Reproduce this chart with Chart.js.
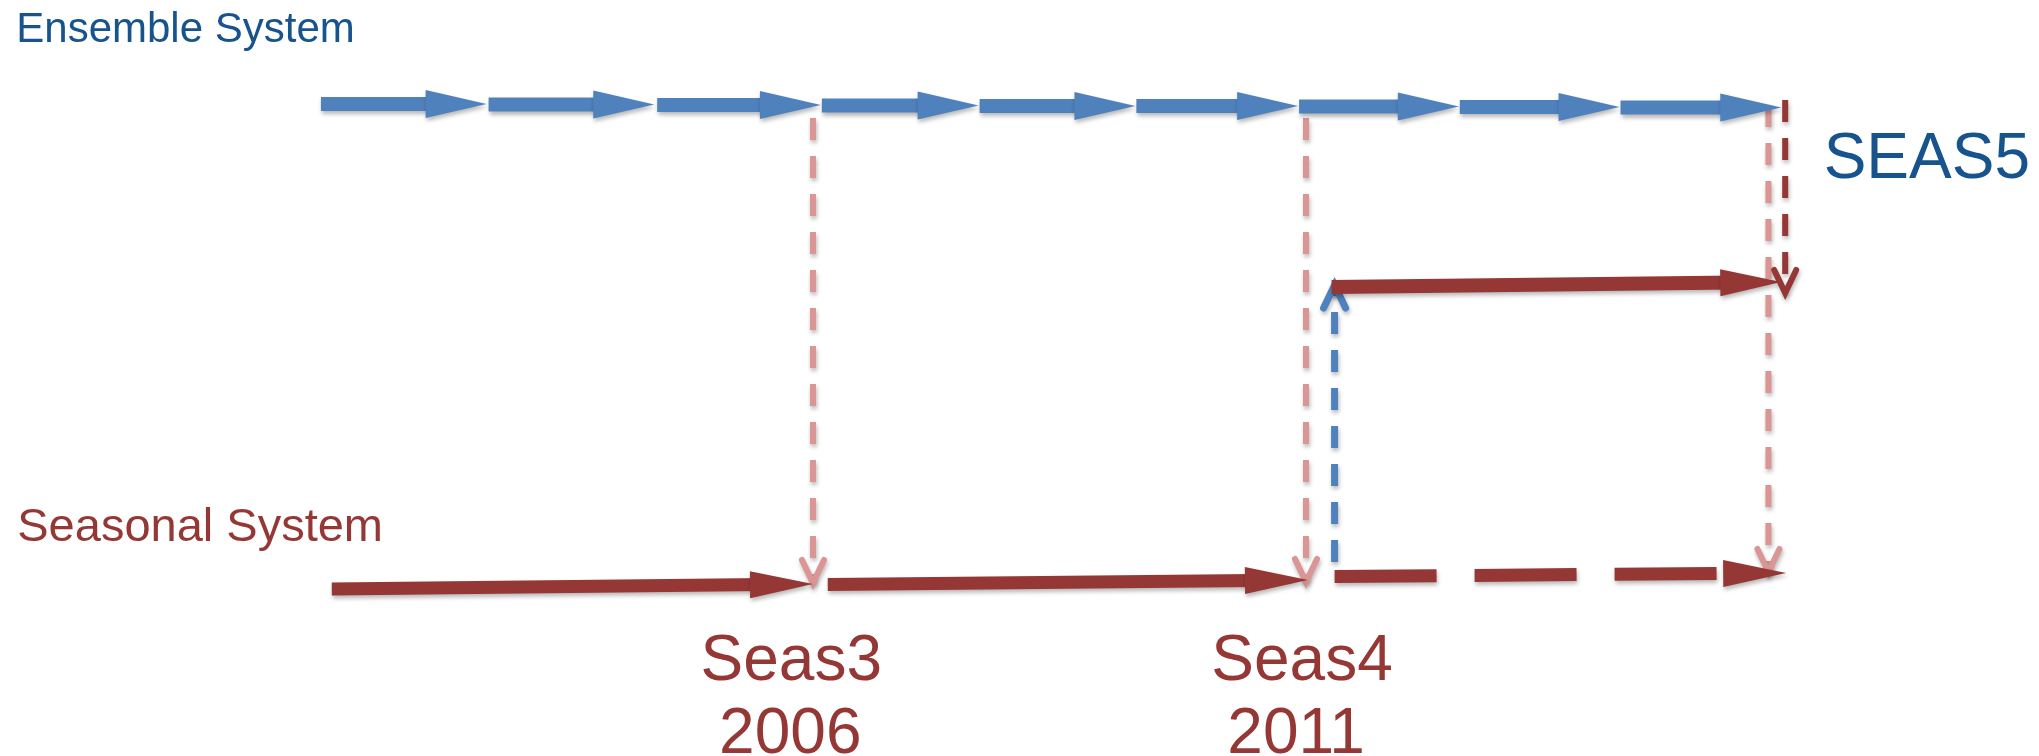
<!DOCTYPE html>
<html>
<head>
<meta charset="utf-8">
<script src="https://cdn.jsdelivr.net/npm/chart.js@4.4.1/dist/chart.umd.min.js"></script>
<style>
html, body { margin: 0; padding: 0; background: #fff; }
canvas { display: block; }
</style>
</head>
<body>
<canvas id="timeline" width="2039" height="756"></canvas>
<script>
// x = time in years, y = row position in the picture (0 at the top)
const X_MIN = 1997.755, X_MAX = 2018.434;
const Y_MIN = 0, Y_MAX = 756;

// Ensemble system cycles (blue arrows)
const ensembleStart = [2001.01, 2002.71, 2004.42, 2006.09, 2007.69, 2009.28, 2010.93, 2012.56, 2014.19];
const ensembleEnd   = [2002.69, 2004.39, 2006.08, 2007.68, 2009.27, 2010.92, 2012.55, 2014.18, 2015.82];
const ensembleRow   = [104, 104.5, 105, 105.5, 106, 106, 106.5, 107, 107.5];

// Seasonal system (red arrows, last one dashed)
const seasonalStart    = [2001.12, 2006.15, 2011.29];
const seasonalEnd      = [2006.00, 2011.02, 2015.87];
const seasonalRowStart = [589, 584.5, 576.5];
const seasonalRowEnd   = [584, 580, 573];

// coupled SEAS5 arrow
const coupledX   = [2011.26, 2015.82];
const coupledRow = [287, 282];

// vertical dashed links
const linkX    = [2006.00, 2011.00, 2015.69, 2015.86, 2011.29];
const linkFrom = [118, 118, 105, 100, 562];
const linkTo   = [583, 582, 572, 293, 285];
const linkKind = ["pink", "pink", "pink", "red", "blue"];

// text labels (x, baseline)
const labelText = ["Ensemble System", "Seasonal System", "SEAS5", "Seas3", "2006", "Seas4", "2011"];
const labelX    = [1997.92, 1997.93, 2016.25, 2005.78, 2005.77, 2010.96, 2010.90];
const labelY    = [42, 541, 178, 680, 753, 680, 753];

const BLUE = "#4F81BD";
const RED = "#953735";
const PINK = "#DA9694";
const TEXT_BLUE = "#17538C";
const FONT = '"Liberation Sans", Arial, Helvetica, sans-serif';

const labelStyle = [
    { size: 42, color: TEXT_BLUE, align: "left" },
    { size: 47, color: RED, align: "left" },
    { size: 64, color: TEXT_BLUE, align: "left" },
    { size: 64, color: RED, align: "center" },
    { size: 64, color: RED, align: "center" },
    { size: 64, color: RED, align: "center" },
    { size: 64, color: RED, align: "center" }
];

const linkStyle = {
    pink: { color: PINK, width: 6, dash: [22, 16], order: 6 },
    red:  { color: RED, width: 6, dash: [22, 16], order: 0 },
    blue: { color: BLUE, width: 7, dash: [22, 16], order: 4 }
};

const datasets = [];

ensembleStart.forEach((x0, i) => {
    datasets.push({
        data: [{ x: x0, y: ensembleRow[i] }, { x: ensembleEnd[i], y: ensembleRow[i] }],
        borderColor: BLUE,
        backgroundColor: BLUE,
        borderWidth: 14,
        head: "fill", headLen: 61, headHalf: 14,
        shadow: true,
        order: 2
    });
});

seasonalStart.forEach((x0, i) => {
    datasets.push({
        data: [{ x: x0, y: seasonalRowStart[i] }, { x: seasonalEnd[i], y: seasonalRowEnd[i] }],
        borderColor: RED,
        backgroundColor: RED,
        borderWidth: 13,
        borderDash: i === 2 ? [102, 38] : [],
        head: "fill", headLen: 63, headHalf: 13.5,
        shadow: true,
        order: 2
    });
});

datasets.push({
    data: [{ x: coupledX[0], y: coupledRow[0] }, { x: coupledX[1], y: coupledRow[1] }],
    borderColor: RED,
    backgroundColor: RED,
    borderWidth: 14,
    head: "fill", headLen: 61, headHalf: 13.5,
    shadow: true,
    order: 2
});

linkX.forEach((x, i) => {
    const st = linkStyle[linkKind[i]];
    datasets.push({
        data: [{ x: x, y: linkFrom[i] }, { x: x, y: linkTo[i] }],
        borderColor: st.color,
        backgroundColor: st.color,
        borderWidth: st.width,
        borderDash: st.dash,
        head: "open", headLen: 23, headHalf: 11, headLine: st.width,
        shadow: true,
        order: st.order
    });
});

function headGeometry(meta, ds) {
    const pts = meta.data;
    const p1 = pts[pts.length - 1];
    const p0 = pts[pts.length - 2];
    const ang = Math.atan2(p1.y - p0.y, p1.x - p0.x);
    const dx = Math.cos(ang), dy = Math.sin(ang);
    const nx = -dy, ny = dx;
    const bx = p1.x - dx * ds.headLen, by = p1.y - dy * ds.headLen;
    return { tip: p1, dx, dy, nx, ny, bx, by };
}

function setShadow(ctx) {
    ctx.shadowColor = "rgba(0,0,0,0.28)";
    ctx.shadowBlur = 4;
    ctx.shadowOffsetX = 1;
    ctx.shadowOffsetY = 3;
}

const arrowPlugin = {
    id: "arrows",
    beforeDatasetDraw(chart, args) {
        const ds = chart.data.datasets[args.index];
        const ctx = chart.ctx;
        ctx.save();
        if (ds.shadow) setShadow(ctx);
        if (ds.head === "fill") {
            // keep the shaft from poking out past the arrow head
            const g = headGeometry(args.meta, ds);
            const w = ds.borderWidth;
            const sx = g.bx + g.dx * 2, sy = g.by + g.dy * 2;
            const ex = g.tip.x + g.dx * w, ey = g.tip.y + g.dy * w;
            ctx.beginPath();
            ctx.rect(0, 0, chart.width, chart.height);
            ctx.moveTo(sx + g.nx * w, sy + g.ny * w);
            ctx.lineTo(ex + g.nx * w, ey + g.ny * w);
            ctx.lineTo(ex - g.nx * w, ey - g.ny * w);
            ctx.lineTo(sx - g.nx * w, sy - g.ny * w);
            ctx.closePath();
            ctx.clip("evenodd");
        }
    },
    afterDatasetDraw(chart, args) {
        const ds = chart.data.datasets[args.index];
        const ctx = chart.ctx;
        ctx.restore();
        if (!ds.head) return;
        const g = headGeometry(args.meta, ds);
        ctx.save();
        if (ds.shadow) setShadow(ctx);
        const ax = g.bx + g.nx * ds.headHalf, ay = g.by + g.ny * ds.headHalf;
        const cx = g.bx - g.nx * ds.headHalf, cy = g.by - g.ny * ds.headHalf;
        ctx.beginPath();
        ctx.moveTo(ax, ay);
        ctx.lineTo(g.tip.x, g.tip.y);
        ctx.lineTo(cx, cy);
        if (ds.head === "fill") {
            ctx.closePath();
            ctx.fillStyle = ds.backgroundColor;
            ctx.fill();
        } else {
            ctx.setLineDash([]);
            ctx.lineWidth = ds.headLine;
            ctx.lineCap = "round";
            ctx.lineJoin = "miter";
            ctx.strokeStyle = ds.borderColor;
            ctx.stroke();
        }
        ctx.restore();
    },
    afterDraw(chart) {
        const ctx = chart.ctx;
        const xs = chart.scales.x, ys = chart.scales.y;
        ctx.save();
        ctx.textBaseline = "alphabetic";
        labelText.forEach((t, i) => {
            const st = labelStyle[i];
            ctx.font = st.size + "px " + FONT;
            ctx.fillStyle = st.color;
            ctx.textAlign = st.align;
            ctx.fillText(t, xs.getPixelForValue(labelX[i]), ys.getPixelForValue(labelY[i]));
        });
        ctx.restore();
    }
};

new Chart(document.getElementById("timeline"), {
    type: "scatter",
    data: { datasets: datasets },
    options: {
        responsive: false,
        devicePixelRatio: 1,
        animation: false,
        layout: { padding: 0 },
        datasets: {
            scatter: { showLine: true, pointRadius: 0, pointHoverRadius: 0, fill: false, clip: false, borderCapStyle: "butt" }
        },
        plugins: { legend: { display: false }, tooltip: { enabled: false } },
        events: [],
        scales: {
            x: { type: "linear", display: false, min: X_MIN, max: X_MAX },
            y: { type: "linear", display: false, min: Y_MIN, max: Y_MAX, reverse: true }
        }
    },
    plugins: [arrowPlugin]
});
</script>
</body>
</html>
